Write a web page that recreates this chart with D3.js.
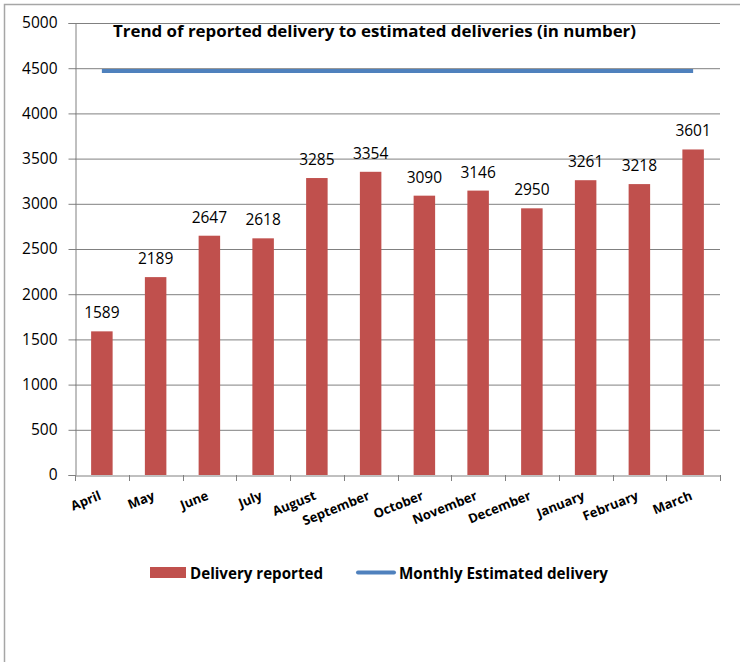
<!DOCTYPE html>
<html><head><meta charset="utf-8">
<script src="https://cdn.jsdelivr.net/npm/d3@7"></script>
<style>body{margin:0;background:#fff}svg{display:block;font-family:"Open Sans",Lato,sans-serif}</style>
</head><body>
<script>
const months = ["April","May","June","July","August","September","October","November","December","January","February","March"];
const reported = [1589,2189,2647,2618,3285,3354,3090,3146,2950,3261,3218,3601];
const estimated = [4470,4470,4470,4470,4470,4470,4470,4470,4470,4470,4470,4470];
const yTicks = [0,500,1000,1500,2000,2500,3000,3500,4000,4500,5000];
const title = "Trend of reported delivery to estimated deliveries (in number)";
const legendLabels = ["Delivery reported","Monthly Estimated delivery"];

const W=740,H=662;
const svg=d3.select("body").append("svg").attr("width",W).attr("height",H);
svg.append("rect").attr("x",4.5).attr("y",4.5).attr("width",W).attr("height",H).attr("fill","none").attr("stroke","#a6a6a6").attr("stroke-width",1.5);

const L=75,R=720,T=23,B=475;
const x=d3.scaleBand().domain(months).range([L,R]).paddingInner(0.6).paddingOuter(0.3);
const xc=d3.scaleBand().domain(months).range([L,R]);
const y=d3.scaleLinear().domain([0,5000]).range([B,T]);

// gridlines
svg.append("g").selectAll("line").data(yTicks.filter(d=>d>0)).join("line")
 .attr("x1",L).attr("x2",R).attr("y1",d=>y(d)+0.5).attr("y2",d=>y(d)+0.5)
 .attr("stroke","#808080").attr("stroke-width",1);

// y axis
const ya=svg.append("g").attr("transform",`translate(${L+0.5},0)`)
 .call(d3.axisLeft(y).tickValues(yTicks).tickSize(7).tickPadding(11).tickFormat(d3.format("d")));
ya.select(".domain").attr("stroke","#808080");
ya.selectAll(".tick line").attr("stroke","#808080");
ya.selectAll("text").attr("font-size",15.5).attr("fill","#000").attr("font-family","'Open Sans',sans-serif");

// bars
svg.append("g").selectAll("rect").data(reported).join("rect")
 .attr("x",(d,i)=>x(months[i])).attr("width",x.bandwidth())
 .attr("y",d=>y(d)).attr("height",d=>B-y(d)).attr("fill","#C0504D");

// x axis
const xa=svg.append("g").attr("transform",`translate(0,${B+0.5})`)
 .call(d3.axisBottom(xc).tickSize(0).tickFormat(""));
xa.select(".domain").attr("stroke","#808080");
svg.append("g").selectAll("line").data(d3.range(months.length+1)).join("line")
 .attr("x1",i=>Math.round(L+i*xc.step())+0.5).attr("x2",i=>Math.round(L+i*xc.step())+0.5)
 .attr("y1",B).attr("y2",B+6).attr("stroke","#808080");
svg.append("g").selectAll("text").data(months).join("text")
 .attr("transform",d=>`translate(${xc(d)+xc.bandwidth()/2},${B+24}) rotate(-22)`)
 .attr("text-anchor","end").attr("font-size",13).attr("font-weight","bold").attr("fill","#000").text(d=>d);

// data labels
svg.append("g").selectAll("text").data(reported).join("text")
 .attr("x",(d,i)=>xc(months[i])+xc.bandwidth()/2).attr("y",d=>y(d)-13)
 .attr("text-anchor","middle").attr("font-size",15.5).attr("fill","#000").text(d=>d);

// line
const line=d3.line().x((d,i)=>xc(months[i])+xc.bandwidth()/2).y(d=>y(d));
svg.append("path").datum(estimated).attr("d",line).attr("fill","none").attr("stroke","#4F81BD").attr("stroke-width",4);

// title
svg.append("text").attr("x",113).attr("y",37).attr("font-size",16).attr("font-weight","bold").attr("fill","#000")
 .attr("textLength",523).attr("lengthAdjust","spacingAndGlyphs").text(title);

// legend
const lg=svg.append("g");
lg.append("rect").attr("x",150).attr("y",567).attr("width",36).attr("height",11).attr("fill","#C0504D");
lg.append("text").attr("x",190).attr("y",579).attr("font-size",16).attr("font-weight","bold")
 .attr("textLength",133).attr("lengthAdjust","spacingAndGlyphs").text(legendLabels[0]);
lg.append("line").attr("x1",358).attr("x2",394).attr("y1",572.5).attr("y2",572.5).attr("stroke","#4F81BD").attr("stroke-width",4).attr("stroke-linecap","round");
lg.append("text").attr("x",399).attr("y",579).attr("font-size",16).attr("font-weight","bold")
 .attr("textLength",209).attr("lengthAdjust","spacingAndGlyphs").text(legendLabels[1]);
</script>
</body></html>
